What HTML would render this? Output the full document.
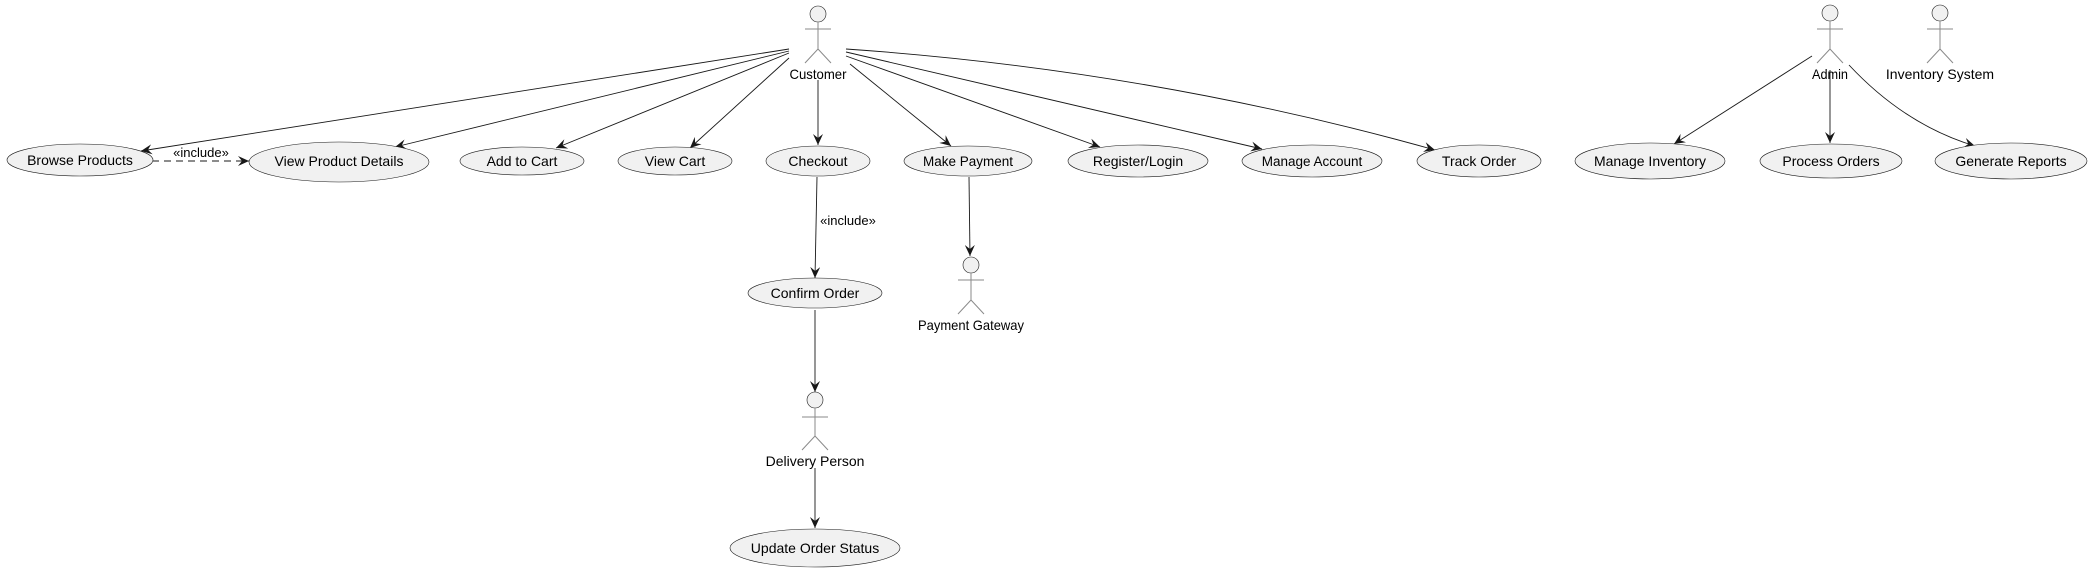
<!DOCTYPE html>
<html><head><meta charset="utf-8"><style>
html,body{margin:0;padding:0;background:#fff;}
svg{display:block;}
text{font-family:"Liberation Sans",sans-serif;fill:#000;}
</style></head><body>
<svg width="2091" height="573" viewBox="0 0 2091 573" xmlns="http://www.w3.org/2000/svg">
<defs>
<marker id="a" viewBox="0 0 12 10" refX="11" refY="5" markerWidth="12" markerHeight="10" markerUnits="userSpaceOnUse" orient="auto">
<path d="M0,0 L11,5 L0,10 L4,5 Z" fill="#181818"/>
</marker>
</defs>
<g fill="none" stroke="#181818" stroke-width="0.9" marker-end="url(#a)">
<path d="M789,49 L141,151"/>
<path d="M789,51 L395,147"/>
<path d="M789,53 L556,148"/>
<path d="M789,58 L690,148"/>
<path d="M818,80 L818,145"/>
<path d="M850,64 L951,146"/>
<path d="M846,56 L1100,147"/>
<path d="M846,52 L1262,149"/>
<path d="M846,49 Q1150,70 1435,150"/>
<path d="M1812,56 L1674,144"/>
<path d="M1830,70 L1830,143"/>
<path d="M1849,65 Q1905,125 1975,146"/>
<path d="M817,177 L815,278"/>
<path d="M815,310 L815,392"/>
<path d="M815,468 L815,528"/>
<path d="M969,177 L970,256"/>
<path d="M152,161 L249,161" stroke-dasharray="7,5"/>
</g>
<g fill="#f1f1f1" stroke="#181818" stroke-width="0.6">
<ellipse cx="80" cy="160" rx="73" ry="16"/>
<ellipse cx="339" cy="162" rx="90" ry="20"/>
<ellipse cx="522" cy="161" rx="62" ry="14"/>
<ellipse cx="675" cy="161" rx="57" ry="14"/>
<ellipse cx="818" cy="161" rx="52" ry="15"/>
<ellipse cx="968" cy="161" rx="64" ry="15"/>
<ellipse cx="1138" cy="161" rx="70" ry="16"/>
<ellipse cx="1312" cy="161" rx="70" ry="16"/>
<ellipse cx="1479" cy="161" rx="62" ry="16"/>
<ellipse cx="1650" cy="161" rx="75" ry="18"/>
<ellipse cx="1831" cy="161" rx="71" ry="17"/>
<ellipse cx="2011" cy="161" rx="76" ry="18"/>
<ellipse cx="815" cy="293" rx="67" ry="15"/>
<ellipse cx="815" cy="548" rx="85" ry="19"/>
</g>
<g font-size="14" text-anchor="middle">
<text x="80" y="165">Browse Products</text>
<text x="339" y="166">View Product Details</text>
<text x="522" y="166">Add to Cart</text>
<text x="675" y="166">View Cart</text>
<text x="818" y="166">Checkout</text>
<text x="968" y="166" font-size="13.5">Make Payment</text>
<text x="1138" y="166">Register/Login</text>
<text x="1312" y="166" font-size="13.5">Manage Account</text>
<text x="1479" y="166">Track Order</text>
<text x="1650" y="166">Manage Inventory</text>
<text x="1831" y="166">Process Orders</text>
<text x="2011" y="166">Generate Reports</text>
<text x="815" y="298">Confirm Order</text>
<text x="815" y="553">Update Order Status</text>
<text x="201" y="157" font-size="13">«include»</text>
<text x="848" y="225" font-size="13">«include»</text>
</g>
<g fill="#f1f1f1" stroke="#181818" stroke-width="0.6">
<circle cx="818" cy="14" r="8"/>
<circle cx="1830" cy="13" r="8"/>
<circle cx="1940" cy="13" r="8"/>
<circle cx="815" cy="400" r="8"/>
<circle cx="971" cy="265" r="8"/>
</g>
<g fill="none" stroke="#8a8a8a" stroke-width="1">
<path d="M818,22 V49 M805,29 H831 M805,63 L818,49 L831,63"/>
<path d="M1830,21 V49 M1817,29 H1843 M1817,63 L1830,49 L1843,63"/>
<path d="M1940,21 V49 M1927,29 H1953 M1927,63 L1940,49 L1953,63"/>
<path d="M815,408 V436 M802,417 H828 M802,450 L815,436 L828,450"/>
<path d="M971,273 V300 M958,280 H984 M958,314 L971,300 L984,314"/>
</g>
<g font-size="14" text-anchor="middle">
<text x="818" y="79" textLength="57" lengthAdjust="spacingAndGlyphs">Customer</text>
<text x="1830" y="79" textLength="36" lengthAdjust="spacingAndGlyphs">Admin</text>
<text x="1940" y="79">Inventory System</text>
<text x="815" y="466">Delivery Person</text>
<text x="971" y="330" textLength="106" lengthAdjust="spacingAndGlyphs">Payment Gateway</text>
</g>
</svg>
</body></html>
